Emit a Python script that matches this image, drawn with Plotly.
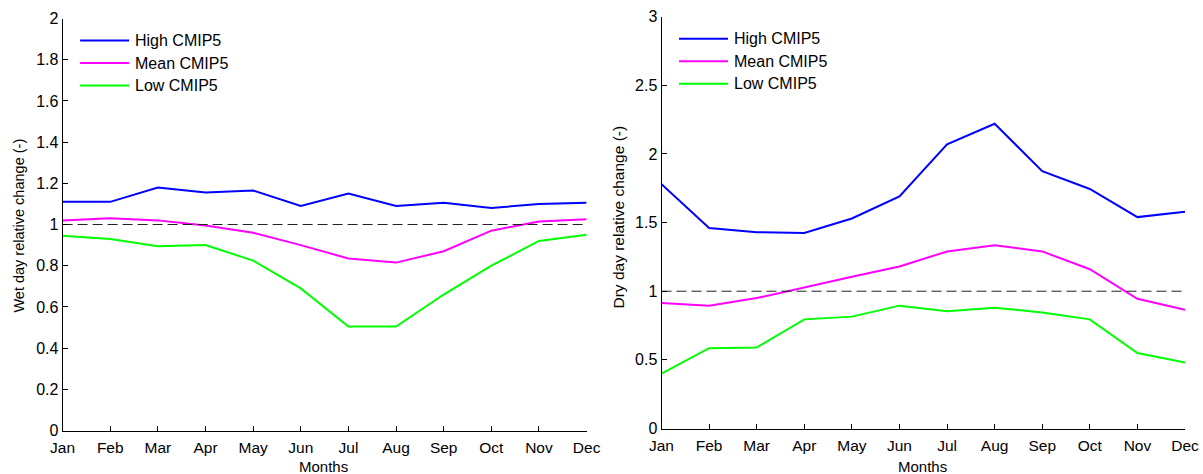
import plotly.graph_objects as go

# ---- data -------------------------------------------------------------
months = ["Jan", "Feb", "Mar", "Apr", "May", "Jun",
          "Jul", "Aug", "Sep", "Oct", "Nov", "Dec"]

series_names = ["High CMIP5", "Mean CMIP5", "Low CMIP5"]
series_colors = ["#0000FF", "#FF00FF", "#00FF00"]

wet_high = [1.11, 1.11, 1.18, 1.155, 1.165, 1.09, 1.15, 1.09, 1.105, 1.08, 1.10, 1.105]
wet_mean = [1.02, 1.03, 1.02, 0.995, 0.96, 0.90, 0.835, 0.815, 0.87, 0.97, 1.015, 1.025]
wet_low = [0.945, 0.93, 0.895, 0.90, 0.825, 0.69, 0.505, 0.505, 0.66, 0.80, 0.92, 0.95]

dry_high = [1.78, 1.46, 1.43, 1.425, 1.53, 1.69, 2.07, 2.22, 1.875, 1.745, 1.54, 1.58]
dry_mean = [0.915, 0.895, 0.95, 1.03, 1.105, 1.18, 1.29, 1.335, 1.29, 1.16, 0.945, 0.865]
dry_low = [0.40, 0.585, 0.59, 0.795, 0.815, 0.895, 0.855, 0.88, 0.845, 0.795, 0.55, 0.48]

wet_ticks = [0, 0.2, 0.4, 0.6, 0.8, 1, 1.2, 1.4, 1.6, 1.8, 2]
dry_ticks = [0, 0.5, 1, 1.5, 2, 2.5, 3]

reference_level = 1

# ---- layout geometry (pixels of the 1203 x 474 page) --------------------
W, H = 1203, 474
FONT = "Liberation Sans, Arial, sans-serif"
panels = [
    # x0, x1, ytop, ybottom, y-title centre, y-title size
    (62.6, 586.6, 18.5, 430.5, 226, 14.5),
    (661.5, 1185.0, 16.7, 428.5, 217, 15.5),
]


def px(x):
    return x / W


def py(y):
    return 1 - y / H


fig = go.Figure()

panel_data = [
    ("x", "y", [wet_high, wet_mean, wet_low]),
    ("x2", "y2", [dry_high, dry_mean, dry_low]),
]

for xa, ya, values in panel_data:
    for name, color, vals in zip(series_names, series_colors, values):
        fig.add_trace(go.Scatter(
            x=months, y=vals, mode="lines", name=name,
            xaxis=xa, yaxis=ya, showlegend=False,
            line=dict(color=color, width=2),
        ))
    # dashed reference line at 1
    fig.add_trace(go.Scatter(
        x=[months[0], months[-1]], y=[reference_level, reference_level],
        mode="lines", xaxis=xa, yaxis=ya, showlegend=False, hoverinfo="skip",
        line=dict(color="#222222", width=1, dash="10px,5px"),
    ))

axis_common = dict(
    showline=True, linecolor="#000000", linewidth=1,
    ticks="inside", ticklen=5, tickcolor="#000000", tickwidth=1,
    showgrid=False, zeroline=False, mirror=False, automargin=False,
)
x_common = dict(type="category", categoryorder="array", categoryarray=months,
                range=[0, len(months) - 1], ticklabelstandoff=3,
                tickfont=dict(family=FONT, size=15.5, color="#000000"),
                **axis_common)
y_font = dict(family=FONT, size=16, color="#000000")

(l0, l1, lt, lb, _, _), (r0, r1, rt, rb, _, _) = panels
fig.update_layout(
    width=W, height=H,
    margin=dict(l=0, r=0, t=0, b=0),
    paper_bgcolor="white", plot_bgcolor="white",
    xaxis=dict(domain=[px(l0), px(l1)], anchor="y", **x_common),
    yaxis=dict(domain=[py(lb), py(lt)], range=[0, 2], tickvals=wet_ticks,
               anchor="x", tickfont=y_font, **axis_common),
    xaxis2=dict(domain=[px(r0), px(r1)], anchor="y2", **x_common),
    yaxis2=dict(domain=[py(rb), py(rt)], range=[0, 3], tickvals=dry_ticks,
                anchor="x2", tickfont=y_font, **axis_common),
)

annotations = []
shapes = []

for (x0, x1, yt, yb, yc, ysize), ytitle in zip(
        panels, ["Wet day relative change (-)", "Dry day relative change (-)"]):
    # axis titles
    annotations.append(dict(
        text="Months", x=px((x0 + x1) / 2 - 1), y=py(466), xref="paper", yref="paper",
        xanchor="center", yanchor="middle", showarrow=False,
        font=dict(family=FONT, size=15, color="#000000"),
    ))
    annotations.append(dict(
        text=ytitle, x=px(x0 - 44), y=py(yc), xref="paper", yref="paper",
        xanchor="center", yanchor="middle", showarrow=False, textangle=-90,
        font=dict(family=FONT, size=ysize, color="#000000"),
    ))

    # legend in the upper-left corner of each panel
    for i, (name, color) in enumerate(zip(series_names, series_colors)):
        row_y = yt + 22 + i * 22.5
        shapes.append(dict(
            type="line", xref="paper", yref="paper",
            x0=px(x0 + 17.5), x1=px(x0 + 66.5), y0=py(row_y), y1=py(row_y),
            line=dict(color=color, width=2),
        ))
        annotations.append(dict(
            text=name, x=px(x0 + 70.5), y=py(row_y), xref="paper", yref="paper",
            xanchor="left", yanchor="middle", showarrow=False,
            font=dict(family=FONT, size=16, color="#000000"),
        ))

fig.update_layout(annotations=annotations, shapes=shapes)

fig.write_html("out.html")
